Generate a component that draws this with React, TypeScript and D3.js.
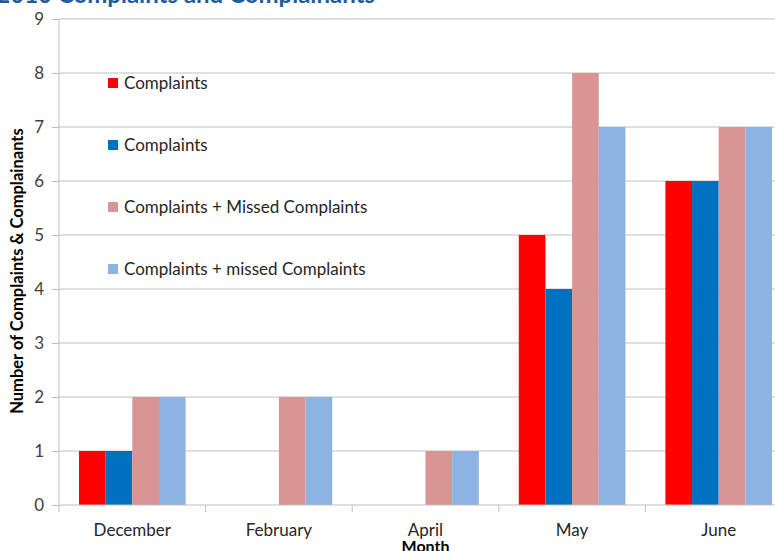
import React, { useEffect, useRef } from "react";
import * as d3 from "d3";

const months = ["December", "February", "April", "May", "June"];
const seriesNames = [
  "Complaints",
  "Complaints",
  "Complaints + Missed Complaints",
  "Complaints + missed Complaints",
];
const seriesColors = ["#FF0000", "#0070C0", "#D99594", "#8DB3E2"];
const redComplaints = [1, 0, 0, 5, 6];
const blueComplaints = [1, 0, 0, 4, 6];
const pinkMissed = [2, 2, 1, 8, 7];
const lightBlueMissed = [2, 2, 1, 7, 7];
const yTicks = [0, 1, 2, 3, 4, 5, 6, 7, 8, 9];

const FONT = "Lato, 'Open Sans', sans-serif";

const App = () => {
  const svgRef = useRef<SVGSVGElement>(null);

  useEffect(() => {
    const w = 775;
    const h = 551;
    const left = 59;
    const right = 792; // plot runs past the picture edge
    const top = 19;
    const bottom = 505;

    const svg = d3.select(svgRef.current);
    svg.selectAll("*").remove();
    svg.attr("width", w).attr("height", h);

    const allSeries = [redComplaints, blueComplaints, pinkMissed, lightBlueMissed];

    const x0 = d3.scaleBand().domain(months).range([left, right]).paddingInner(0).paddingOuter(0);
    const x1 = d3
      .scaleBand()
      .domain(d3.range(allSeries.length).map(String))
      .range([0, x0.bandwidth()])
      .paddingInner(0)
      .paddingOuter(0.75);
    const y = d3.scaleLinear().domain([0, 9]).range([bottom, top]);

    // gridlines
    svg
      .append("g")
      .selectAll("line")
      .data(yTicks.filter((t) => t > 0))
      .join("line")
      .attr("x1", left)
      .attr("x2", right)
      .attr("y1", (d) => y(d))
      .attr("y2", (d) => y(d))
      .attr("stroke", "#C0C0C0")
      .attr("stroke-width", 1);

    // y axis
    const yAxis = d3.axisLeft(y).tickValues(yTicks).tickSize(7).tickPadding(8).tickFormat(d3.format("d"));
    const yg = svg.append("g").attr("transform", `translate(${left},0)`).call(yAxis);
    yg.selectAll("path,line").attr("stroke", "#BFBFBF");
    yg.select(".domain").attr("d", `M-7,${top + 0.5}H0V${bottom}`);
    yg.selectAll("text")
      .attr("font-family", FONT)
      .attr("font-size", 17)
      .attr("fill", "#404040");

    // bars
    months.forEach((m, i) => {
      svg
        .append("g")
        .selectAll("rect")
        .data(allSeries.map((s, k) => ({ k, v: s[i] })))
        .join("rect")
        .attr("x", (d) => (x0(m) as number) + (x1(String(d.k)) as number))
        .attr("y", (d) => y(d.v))
        .attr("width", x1.bandwidth())
        .attr("height", (d) => bottom - y(d.v))
        .attr("fill", (d) => seriesColors[d.k]);
    });

    // x axis
    const xg = svg.append("g").attr("transform", `translate(0,${bottom})`);
    xg.append("line").attr("x1", left).attr("x2", right).attr("stroke", "#BFBFBF");
    xg.selectAll(".tk")
      .data(d3.range(months.length + 1))
      .join("line")
      .attr("x1", (i) => left + i * x0.step())
      .attr("x2", (i) => left + i * x0.step())
      .attr("y1", 0)
      .attr("y2", 7)
      .attr("stroke", "#BFBFBF");
    xg.selectAll("text")
      .data(months)
      .join("text")
      .attr("x", (d) => (x0(d) as number) + x0.bandwidth() / 2)
      .attr("y", 31)
      .attr("text-anchor", "middle")
      .attr("font-family", FONT)
      .attr("font-size", 17)
      .attr("fill", "#262626")
      .text((d) => d);

    // axis titles
    svg
      .append("text")
      .attr("x", (left + right) / 2)
      .attr("y", 552)
      .attr("text-anchor", "middle")
      .attr("font-family", FONT)
      .attr("font-weight", "bold")
      .attr("font-size", 16)
      .attr("fill", "#000")
      .text("Month");

    svg
      .append("text")
      .attr("transform", `translate(23,${(top + bottom) / 2 + 9}) rotate(-90)`)
      .attr("text-anchor", "middle")
      .attr("font-family", FONT)
      .attr("font-weight", "bold")
      .attr("font-size", 16.5)
      .attr("fill", "#000")
      .text("Number of Complaints & Complainants");

    // title (cut off at top)
    svg
      .append("text")
      .attr("x", 375)
      .attr("y", 3)
      .attr("text-anchor", "end")
      .attr("font-family", FONT)
      .attr("font-weight", "bold")
      .attr("font-size", 24)
      .attr("fill", "#1F5C99")
      .text("2010 Complaints and Complainants");

    // legend
    const legend = svg
      .append("g")
      .selectAll("g")
      .data(seriesNames)
      .join("g")
      .attr("transform", (d, i) => `translate(108,${83 + i * 62})`);
    legend
      .append("rect")
      .attr("x", 0)
      .attr("y", -5)
      .attr("width", 10)
      .attr("height", 10)
      .attr("fill", (d, i) => seriesColors[i]);
    legend
      .append("text")
      .attr("x", 16)
      .attr("y", 6)
      .attr("font-family", FONT)
      .attr("font-size", 17)
      .attr("fill", "#262626")
      .text((d) => d);
  }, []);

  return <svg ref={svgRef} style={{ position: "absolute", left: 0, top: 0 }} />;
};

export default App;
